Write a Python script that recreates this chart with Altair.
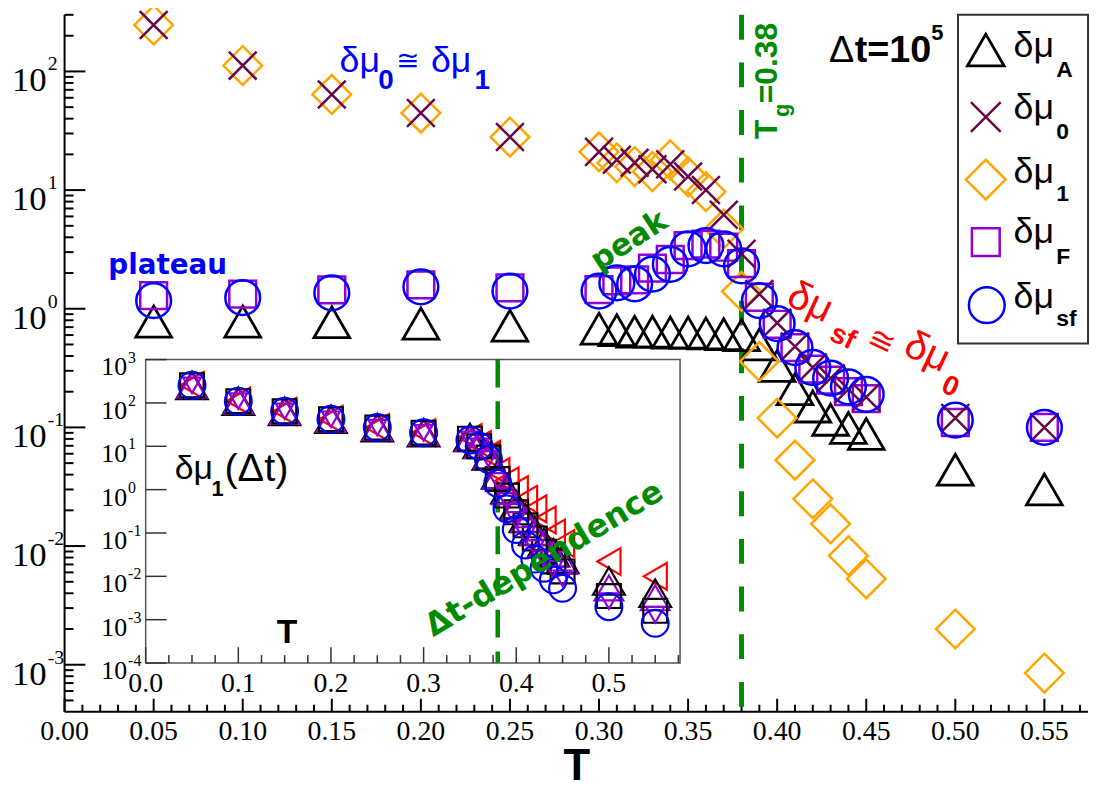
import altair as alt
import pandas as pd

W, H = 1031, 702
OX, OY = 65, 12

# ---------------- main panel data (Δt = 10^5) ----------------
T_main = [0.05, 0.10, 0.15, 0.20, 0.25, 0.30, 0.31, 0.32, 0.33, 0.34, 0.35, 0.36,
          0.37, 0.38, 0.39, 0.40, 0.41, 0.42, 0.43, 0.44, 0.45, 0.50, 0.55]
dmu_A = [0.78, 0.78, 0.77, 0.75, 0.72, 0.68, 0.66, 0.64, 0.64, 0.63, 0.63, 0.62,
         0.61, 0.60, 0.50, 0.33, 0.21, 0.15, 0.116, 0.099, 0.088, 0.044, 0.030]
dmu_0 = [246, 112, 64, 44.6, 28, 21, 18, 17, 15, 16.5, 13, 10,
         6.2, 2.9, 1.33, 0.76, 0.48, 0.32, 0.26, 0.21, 0.18, 0.12, 0.10]
dmu_1 = [246, 112, 64, 44.6, 28, 21, 17, 15.8, 14.3, 18, 12.9, 9.7,
         4.7, 1.4, 0.36, 0.12, 0.053, 0.025, 0.0154, 0.0083, 0.0053, 0.0020, 0.00085]
dmu_F = [1.29, 1.33, 1.44, 1.59, 1.5, 1.45, 1.72, 1.75, 2.2, 2.6, 3.4, 3.5,
         3.3, 2.4, 1.25, 0.74, 0.47, 0.31, 0.25, 0.20, 0.175, 0.11, 0.10]
dmu_sf = [1.17, 1.24, 1.36, 1.53, 1.41, 1.41, 1.65, 1.62, 1.96, 2.37, 3.2, 3.4,
          3.2, 2.3, 1.17, 0.75, 0.47, 0.32, 0.26, 0.22, 0.19, 0.115, 0.10]

# ---------------- inset data: δμ1 for several Δt ----------------
T_inset = [0.05, 0.10, 0.15, 0.20, 0.25, 0.30, 0.35, 0.36, 0.37, 0.38, 0.39,
           0.40, 0.41, 0.42, 0.43, 0.44, 0.45, 0.50, 0.55]
d1_red = [255, 110, 64, 42, 27, 20.5, 16, 11, 6.5, 2.6, 1.6, 1.0, 0.6, 0.36, 0.2, 0.1, 0.057, 0.022, 0.010]
d1_blk = [255, 110, 64, 42, 27, 20.5, 16, 11, 6, 2.2, 1.0, 0.45, 0.22, 0.11, 0.06, 0.035, 0.025, 0.0078, 0.0041]
d1_pur = [255, 110, 64, 42, 27, 20.5, 15, 10.5, 6, 2.1, 0.9, 0.4, 0.2, 0.1, 0.055, 0.032, 0.022, 0.0054, 0.0032]
d1_sq = [255, 110, 64, 42, 27, 20.5, 15, 10, 5.5, 1.76, 0.73, 0.30, 0.15, 0.075, 0.037, 0.022, 0.013, 0.0035, 0.0016]
d1_dn = [255, 110, 64, 42, 27, 20.5, 14.5, 10, 5.2, 1.6, 0.55, 0.2, 0.09, 0.045, 0.025, 0.015, 0.009, 0.0027, 0.0013]
d1_blue = [255, 110, 64, 42, 27, 20.5, 14, 10, 5, 1.4, 0.36, 0.12, 0.053, 0.025, 0.0154, 0.0083, 0.0053, 0.0020, 0.00083]

Tg = [0.38]

# ---------------- ticks / labels ----------------
main_x_major = [0.00, 0.05, 0.10, 0.15, 0.20, 0.25, 0.30, 0.35, 0.40, 0.45, 0.50, 0.55]
main_x_labels = ["0.00", "0.05", "0.10", "0.15", "0.20", "0.25", "0.30", "0.35", "0.40", "0.45", "0.50", "0.55"]
main_x_minor = [round(0.01 * i, 2) for i in range(58) if i % 5]
main_y_major = [1e-3, 1e-2, 1e-1, 1, 10, 100]
main_y_exp = ["-3", "-2", "-1", "0", "1", "2"]
main_y_minor = [k * 10.0 ** e for e in range(-4, 3) for k in range(2, 10) if 4.02e-4 <= k * 10.0 ** e <= 300]
ins_x_major = [0.0, 0.1, 0.2, 0.3, 0.4, 0.5]
ins_x_labels = ["0.0", "0.1", "0.2", "0.3", "0.4", "0.5"]
ins_x_minor = [round(0.025 * i, 3) for i in range(24) if i % 4]
ins_y_major = [1e-4, 1e-3, 1e-2, 1e-1, 1, 10, 100, 1000]
ins_y_exp = ["-4", "-3", "-2", "-1", "0", "1", "2", "3"]

GREEN = "#008b00"
MAROON = "#670748"
ORANGE = "#ffa500"
PURPLE = "#9400d3"
BLUE = "#0000ff"
RED = "#ff0000"

xs_main = alt.Scale(domain=[0, 0.5745], nice=False, zero=False)
ys_main = alt.Scale(type="log", domain=[4.02e-4, 300], nice=False)
xs_ins = alt.Scale(domain=[0, 0.5768], range=[81.7, 620], nice=False, zero=False)
ys_ins = alt.Scale(type="log", domain=[1e-4, 1e3], range=[653, 347.3], nice=False)

main_df = pd.DataFrame({"T": T_main, "A": dmu_A, "d0": dmu_0, "d1": dmu_1, "F": dmu_F, "sf": dmu_sf})
ins_df = pd.DataFrame({"T": T_inset, "red": d1_red, "blk": d1_blk, "pur": d1_pur,
                       "sq": d1_sq, "dn": d1_dn, "blue": d1_blue})
XSHAPE = "M-1,-1L1,1M-1,1L1,-1"
one = pd.DataFrame({"k": [0]})


def series(df, xs, ys, field, shape, size, color, sw=2.5):
    return alt.Chart(df).mark_point(shape=shape, size=size, filled=False, color=color,
                                    strokeWidth=sw, opacity=1).encode(
        x=alt.X("T:Q", scale=xs, axis=None), y=alt.Y(f"{field}:Q", scale=ys, axis=None))


def tx(s, x, y, size, color="black", font="Liberation Sans", weight="normal",
       align="left", baseline="alphabetic", angle=0):
    return alt.Chart(pd.DataFrame({"s": [s]})).mark_text(
        align=align, baseline=baseline, font=font, fontSize=size, fontWeight=weight,
        color=color, angle=angle).encode(x=alt.value(x - OX), y=alt.value(y - OY), text="s:N")


def sym(shape, x, y, size, color, sw=2.5):
    return alt.Chart(one).mark_point(shape=shape, size=size, filled=False, color=color,
                                     strokeWidth=sw, opacity=1).encode(
        x=alt.value(x - OX), y=alt.value(y - OY))


def yrule(vals, ys, x0, x1, color="black", sw=2):
    return alt.Chart(pd.DataFrame({"v": vals})).mark_rule(color=color, strokeWidth=sw).encode(
        y=alt.Y("v:Q", scale=ys, axis=None), x=alt.value(x0), x2=alt.value(x1))


def xrule(vals, xs, y0, y1, color="black", sw=2):
    return alt.Chart(pd.DataFrame({"v": vals})).mark_rule(color=color, strokeWidth=sw).encode(
        x=alt.X("v:Q", scale=xs, axis=None), y=alt.value(y0), y2=alt.value(y1))


# ---------------- main panel ----------------
main_layers = [
    alt.Chart(one).mark_rule(color="black", strokeWidth=2).encode(x=alt.value(0), y=alt.value(0), y2=alt.value(H)),
    alt.Chart(one).mark_rule(color="black", strokeWidth=2).encode(x=alt.value(0), x2=alt.value(W), y=alt.value(H)),
    yrule(main_y_major, ys_main, 0, 21),
    yrule(main_y_minor, ys_main, 0, 9),
    xrule(main_x_major, xs_main, H, H - 13),
    xrule(main_x_minor, xs_main, H, H - 7),
    alt.Chart(pd.DataFrame({"v": main_y_major})).mark_text(
        text="10", align="right", baseline="alphabetic", dy=20, font="Liberation Serif", fontSize=35).encode(
        x=alt.value(47 - OX), y=alt.Y("v:Q", scale=ys_main, axis=None)),
    alt.Chart(pd.DataFrame({"v": main_y_major, "e": main_y_exp})).mark_text(
        align="left", baseline="alphabetic", dy=-1, font="Liberation Serif", fontSize=20).encode(
        x=alt.value(48 - OX), y=alt.Y("v:Q", scale=ys_main, axis=None), text="e:N"),
    alt.Chart(pd.DataFrame({"v": main_x_major, "l": main_x_labels})).mark_text(
        align="center", baseline="alphabetic", font="Liberation Serif", fontSize=28).encode(
        x=alt.X("v:Q", scale=xs_main, axis=None), y=alt.value(743 - OY), text="l:N"),
    tx("T", 581, 783, 44, weight="bold", align="center"),
    alt.Chart(pd.DataFrame({"Tg": Tg})).mark_rule(color=GREEN, strokeWidth=5, strokeDash=[25, 23]).encode(
        x=alt.X("Tg:Q", scale=xs_main, axis=None), y=alt.value(0), y2=alt.value(H)),
    series(main_df, xs_main, ys_main, "A", "triangle-up", 1296, "black", 2.8),
    series(main_df, xs_main, ys_main, "d1", "diamond", 1521, ORANGE),
    series(main_df, xs_main, ys_main, "F", "square", 729, PURPLE),
    series(main_df, xs_main, ys_main, "d0", XSHAPE, 784, MAROON),
    series(main_df, xs_main, ys_main, "sf", "circle", 1225, BLUE),
    # annotations
    tx("δμ", 342, 70, 36, BLUE),
    tx("0", 381, 87, 28, BLUE, weight="bold"),
    tx("≅", 399, 68, 28, BLUE, font="DejaVu Sans"),
    tx("δμ", 434, 70, 36, BLUE),
    tx("1", 478, 87, 28, BLUE, weight="bold"),
    tx("plateau", 109, 273, 28, BLUE, font="DejaVu Sans", weight="bold"),
    tx("peak", 634, 240, 31, GREEN, font="DejaVu Sans", weight="bold", align="center", baseline="middle", angle=327),
    tx("T", 783, 137, 32, GREEN, weight="bold", angle=270),
    tx("g", 795, 115, 22, GREEN, weight="bold", angle=270),
    tx("=0.38", 783, 101, 32, GREEN, weight="bold", angle=270),
    tx("δμ", 816, 302, 40, RED, align="center", baseline="middle", angle=25),
    tx("sf", 849, 337, 28, RED, weight="bold", align="center", baseline="middle", angle=25),
    tx("≅", 888, 341, 32, RED, font="DejaVu Sans", align="center", baseline="middle", angle=25),
    tx("δμ", 934, 352, 40, RED, align="center", baseline="middle", angle=25),
    tx("0", 957, 387, 28, RED, weight="bold", align="center", baseline="middle", angle=25),
    tx("Δ", 835, 60, 38),
    tx("t=10", 861, 60, 38, weight="bold"),
    tx("5", 938, 37, 22, weight="bold"),
    # legend
    alt.Chart(one).mark_rect(fill="white", stroke="#333333", strokeWidth=2).encode(
        x=alt.value(965 - OX), x2=alt.value(1096 - OX), y=alt.value(12 - OY), y2=alt.value(343 - OY)),
    sym("triangle-up", 993, 47.5, 1369, "black", 2.8),
    sym(XSHAPE, 993, 115, 900, MAROON),
    sym("diamond", 993, 178, 1600, ORANGE),
    sym("square", 993, 241, 784, PURPLE),
    sym("circle", 994, 304.5, 1296, BLUE),
    tx("δμ", 1021, 54, 36), tx("A", 1064, 75, 23, weight="bold"),
    tx("δμ", 1021, 117, 36), tx("0", 1064, 137, 23, weight="bold"),
    tx("δμ", 1021, 181, 36), tx("1", 1064, 200, 23, weight="bold"),
    tx("δμ", 1021, 242, 36), tx("F", 1064, 263, 23, weight="bold"),
    tx("δμ", 1021, 307, 36), tx("sf", 1064, 325, 23, weight="bold"),
]
main = alt.layer(*main_layers)

# ---------------- inset ----------------
ins_layers = [
    alt.Chart(one).mark_rect(fill="white", stroke="#555555", strokeWidth=1.5).encode(
        x=alt.value(81.7), x2=alt.value(620), y=alt.value(347.3), y2=alt.value(653)),
    yrule(ins_y_major, ys_ins, 81.7, 81.7 + 21, color="#333333", sw=1.5),
    xrule(ins_x_major, xs_ins, 653, 653 - 16, color="#333333", sw=1.5),
    xrule(ins_x_minor, xs_ins, 653, 653 - 8, color="#333333", sw=1.5),
    alt.Chart(pd.DataFrame({"v": ins_y_major})).mark_text(
        text="10", align="right", baseline="alphabetic", dy=16, font="Liberation Serif", fontSize=26).encode(
        x=alt.value(128 - OX), y=alt.Y("v:Q", scale=ys_ins, axis=None)),
    alt.Chart(pd.DataFrame({"v": ins_y_major, "e": ins_y_exp})).mark_text(
        align="left", baseline="alphabetic", dy=3, font="Liberation Serif", fontSize=16).encode(
        x=alt.value(129 - OX), y=alt.Y("v:Q", scale=ys_ins, axis=None), text="e:N"),
    alt.Chart(pd.DataFrame({"v": ins_x_major, "l": ins_x_labels})).mark_text(
        align="center", baseline="alphabetic", font="Liberation Serif", fontSize=28).encode(
        x=alt.X("v:Q", scale=xs_ins, axis=None), y=alt.value(694 - OY), text="l:N"),
    alt.Chart(pd.DataFrame({"Tg": Tg})).mark_rule(color=GREEN, strokeWidth=4.5, strokeDash=[28, 14]).encode(
        x=alt.X("Tg:Q", scale=xs_ins, axis=None), y=alt.value(347.3), y2=alt.value(653)),
    series(ins_df, xs_ins, ys_ins, "red", "triangle-left", 729, RED, 2.2),
    series(ins_df, xs_ins, ys_ins, "blk", "triangle-up", 1024, "black", 2.2),
    series(ins_df, xs_ins, ys_ins, "pur", "triangle-up", 841, PURPLE, 2.2),
    series(ins_df, xs_ins, ys_ins, "sq", "square", 576, "black", 2.2),
    series(ins_df, xs_ins, ys_ins, "dn", "triangle-down", 324, PURPLE, 2.2),
    series(ins_df, xs_ins, ys_ins, "blue", "circle", 729, BLUE, 2.2),
    tx("δμ", 176, 480, 34),
    tx("1", 213, 497, 22, weight="bold"),
    tx("(Δt)", 226, 482, 40),
    tx("T", 289, 645, 34, weight="bold", align="center"),
    tx("Δt-dependence", 548, 560, 32, GREEN, font="DejaVu Sans", weight="bold",
       align="center", baseline="middle", angle=329),
]
inset = alt.layer(*ins_layers)

chart = alt.layer(main, inset).resolve_scale(x="independent", y="independent").properties(
    width=W, height=H,
    padding={"left": 57, "top": 4, "right": 4, "bottom": 74},
    autosize=alt.AutoSizeParams(type="none"),
    background="white",
).configure_view(stroke=None)

chart.save("out.html", embed_options={"renderer": "svg", "actions": False})
